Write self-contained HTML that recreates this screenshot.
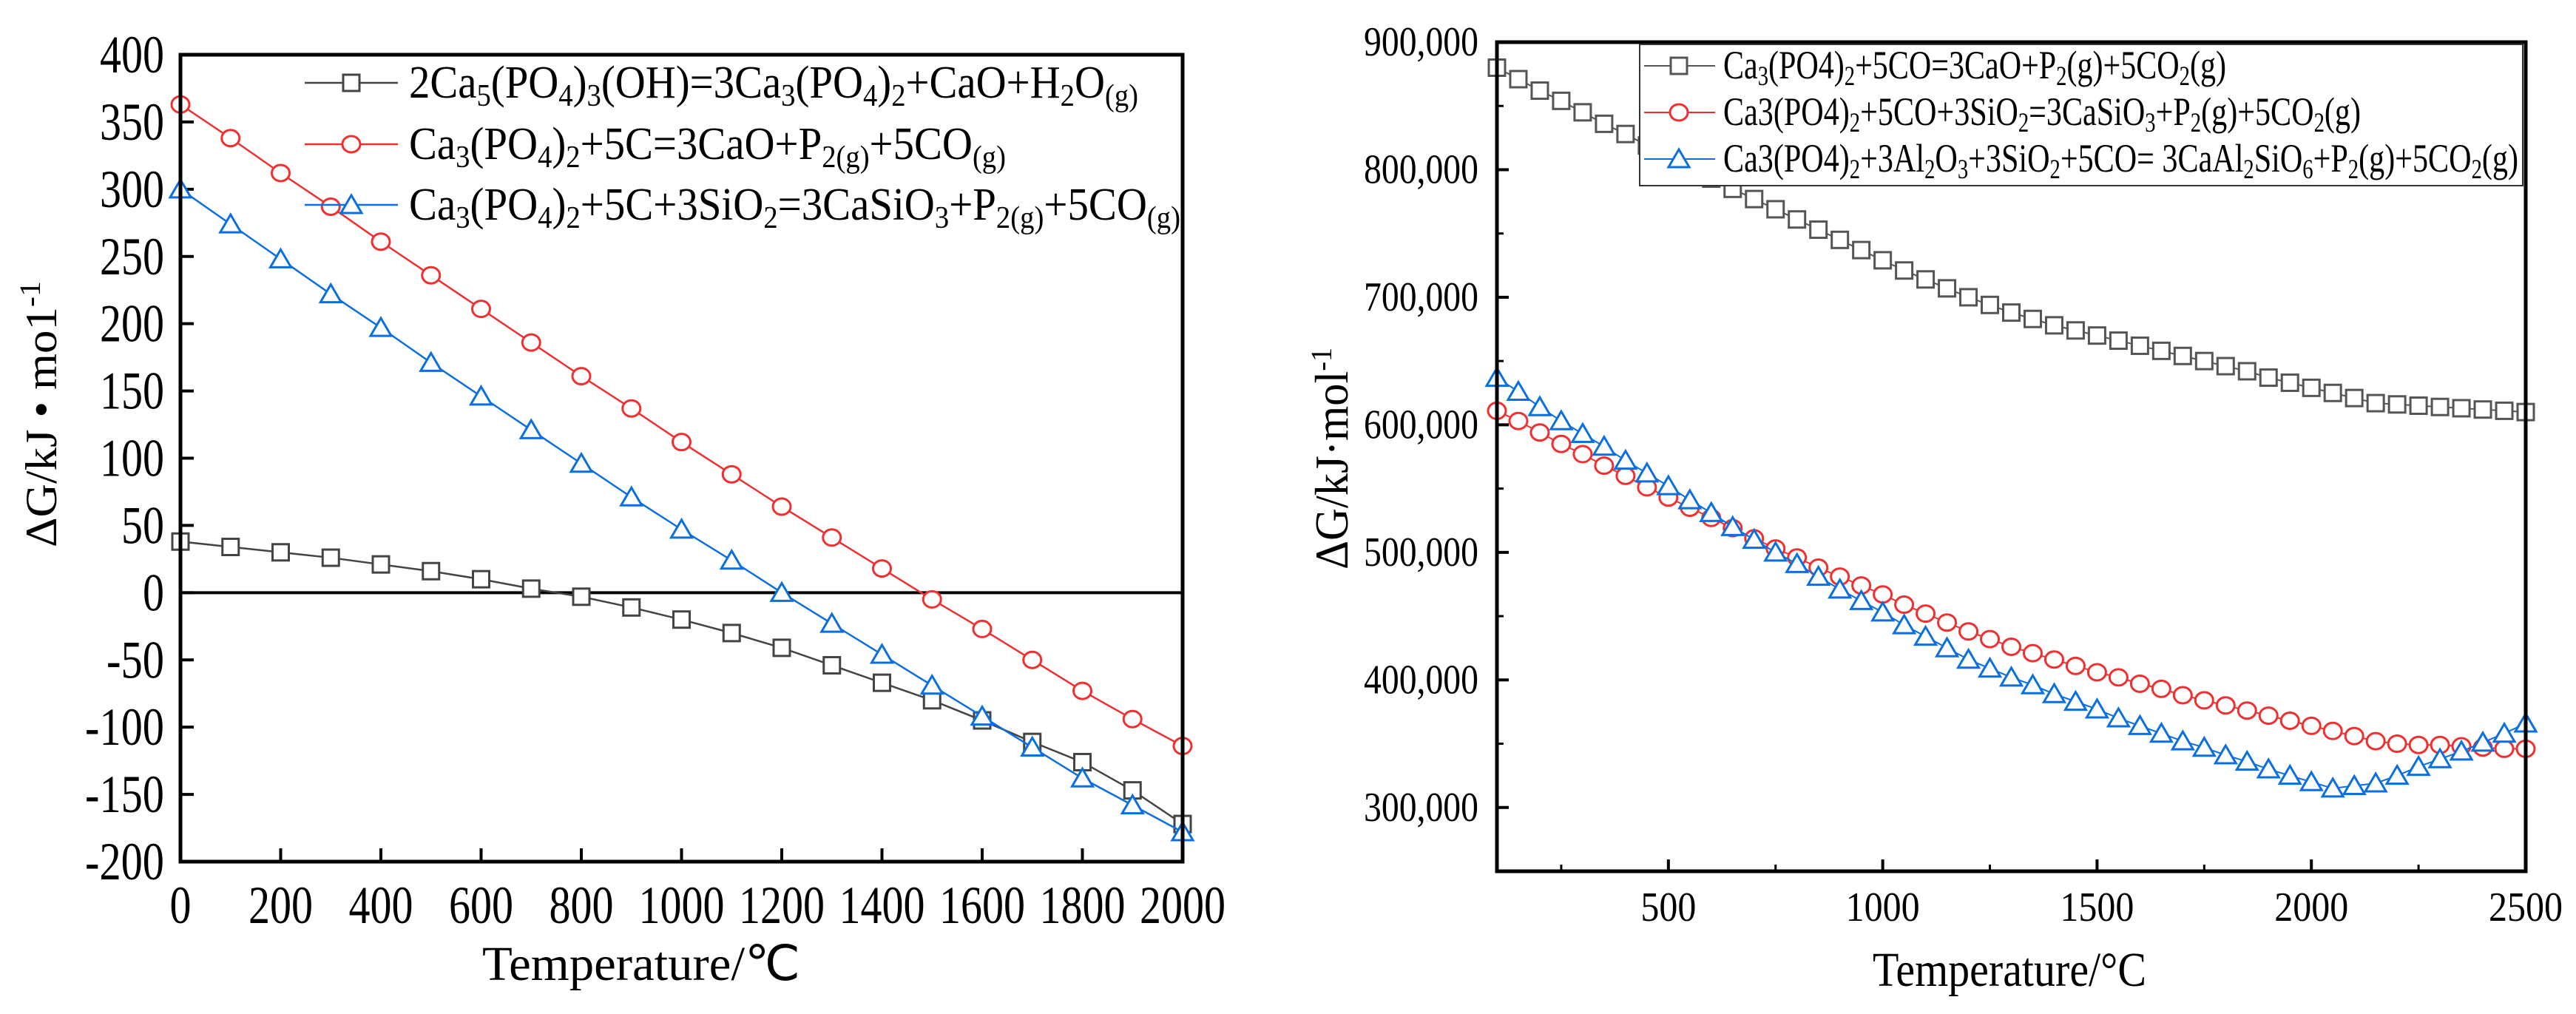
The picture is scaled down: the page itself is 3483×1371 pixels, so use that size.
<!DOCTYPE html>
<html><head><meta charset="utf-8"><style>
html,body{margin:0;padding:0;background:#fff;}
svg{display:block;}
text{font-family:"Liberation Serif",serif;fill:#000;}
</style></head><body>
<svg id="svg" width="3483" height="1371" viewBox="0 0 3483 1371" xmlns="http://www.w3.org/2000/svg">
<g id="left"></g>
<g id="right"></g>
</svg>
<script>
// ---------- Left chart data ----------
const leftTemps = [0,100,200,300,400,500,600,700,800,900,1000,1100,1200,1300,1400,1500,1600,1700,1800,1900,2000];
const leftHap = [38,34,30,26,21,16,10,3,-3,-11,-20,-30,-41,-54,-67,-80,-95,-111,-126,-147,-172];
const leftCarbon = [363,338,312,287,261,236,211,186,161,137,112,88,64,41,18,-5,-27,-50,-73,-94,-114];
const leftSilica = [300,274,248,222,197,171,146,121,96,71,47,24,0,-23,-46,-69,-92,-115,-138,-158,-178];
const leftXTicks = [0,200,400,600,800,1000,1200,1400,1600,1800,2000];
const leftYTicks = [400,350,300,250,200,150,100,50,0,-50,-100,-150,-200];

// ---------- Right chart data ----------
const rightTemps = [100,150,200,250,300,350,400,450,500,550,600,650,700,750,800,850,900,950,1000,1050,1100,1150,1200,1250,1300,1350,1400,1450,1500,1550,1600,1650,1700,1750,1800,1850,1900,1950,2000,2050,2100,2150,2200,2250,2300,2350,2400,2450,2500];
const rightCO = [880,871,862,854,845,836,828,819,810,802,793,785,777,769,761,753,745,737,729,721,714,707,700,694,688,683,678,674,670,666,662,658,654,650,646,642,637,633,629,625,621,617,616,615,614,613,612,611,610];
const rightSiO2 = [611,603,594,585,577,568,560,551,543,535,527,519,511,503,496,488,481,474,467,459,452,445,438,432,426,421,416,411,406,402,397,393,388,384,380,376,372,368,364,360,356,352,350,349,349,348,347,346,346];
const rightAl2O3 = [637,626,614,603,593,583,572,562,552,541,531,520,510,500,491,481,471,462,453,443,434,425,416,409,402,396,389,383,377,370,364,358,352,347,341,336,330,325,320,315,317,319,325,332,338,344,351,358,366];
const rightXTicks = [500,1000,1500,2000,2500];
const rightYTicks = [300000,400000,500000,600000,700000,800000,900000];

const NS = "http://www.w3.org/2000/svg";
function mk(parent, tag, attrs, txt){
  const e = document.createElementNS(NS, tag);
  for (const k in attrs) e.setAttribute(k, attrs[k]);
  if (txt !== undefined) e.textContent = txt;
  parent.appendChild(e);
  return e;
}
function marker(g, type, x, y, color, s){
  let e;
  if (type === 'sq') e = mk(g,'rect',{x:x-s,y:y-s,width:2*s,height:2*s,fill:'#fff',stroke:color,'stroke-width':3});
  else if (type === 'ci') e = mk(g,'ellipse',{cx:x,cy:y,rx:s+1,ry:s,fill:'#fff',stroke:color,'stroke-width':3});
  else e = mk(g,'polygon',{points:`${x},${y-s-2} ${x-s-3},${y+s} ${x+s+3},${y+s}`,fill:'#fff',stroke:color,'stroke-width':3});
  return e;
}
function richText(g, x, y, size, parts, len){
  const t = mk(g,'text',{x:x,y:y,'font-size':size,textLength:len,lengthAdjust:'spacingAndGlyphs'});
  parts.forEach(p=>{
    const ts = mk(t,'tspan',{});
    ts.textContent = p[0];
    if (p[1]===1){ ts.setAttribute('baseline-shift','-25%'); ts.setAttribute('font-size', size*0.68); }
  });
  return t;
}
function sub(str){
  const out=[]; const re=/_([^_]+)_/g; let last=0,m;
  while((m=re.exec(str))){ if(m.index>last) out.push([str.slice(last,m.index),0]); out.push([m[1],1]); last=re.lastIndex; }
  if(last<str.length) out.push([str.slice(last),0]);
  return out;
}

// ================= LEFT CHART =================
(function(){
  const g = document.getElementById('left');
  const X0=244, X1=1599, Y0=74, Y1=1165;
  const xs = v => X0 + (v-0)/(2000-0)*(X1-X0);
  const ys = v => Y0 + (400-v)/(400-(-200))*(Y1-Y0);
  leftXTicks.forEach(v=>{
    const t = mk(g,'line',{x1:xs(v),x2:xs(v),y1:Y1,y2:Y1-18,stroke:'#000','stroke-width':4});
     
    const s = String(v);
    const l = mk(g,'text',{x:xs(v),y:1248,'font-size':72,'text-anchor':'middle',textLength:29*s.length,lengthAdjust:'spacingAndGlyphs'}, s);
     
  });
  leftYTicks.forEach(v=>{
    const t = mk(g,'line',{x1:X0,x2:X0+18,y1:ys(v),y2:ys(v),stroke:'#000','stroke-width':4});
     
    const s = String(v);
    const l = mk(g,'text',{x:222,y:ys(v)+24,'font-size':72,'text-anchor':'end',textLength:s.startsWith('-')?(29*(s.length-1)+20):29*s.length,lengthAdjust:'spacingAndGlyphs'}, s);
     
  });
  const z = mk(g,'line',{x1:X0,x2:X1,y1:ys(0),y2:ys(0),stroke:'#000','stroke-width':4});
   
  const series = [
    {name:'series-hydroxyapatite', d:leftHap, c:'#444', m:'sq'},
    {name:'series-carbon', d:leftCarbon, c:'#f03030', m:'ci'},
    {name:'series-silica', d:leftSilica, c:'#0a6fe0', m:'tr'}
  ];
  series.forEach(s=>{
    const sg = mk(g,'g',{});
     
    const pts = leftTemps.map((t,i)=>xs(t)+','+ys(s.d[i])).join(' ');
    mk(sg,'polyline',{points:pts,fill:'none',stroke:s.c,'stroke-width':2.5});
    leftTemps.forEach((t,i)=>{
      const m = marker(sg,s.m,xs(t),ys(s.d[i]),s.c,11);
       
    });
  });
  const f = mk(g,'rect',{x:X0,y:Y0,width:X1-X0,height:Y1-Y0,fill:'none',stroke:'#000','stroke-width':5});
   
  const leg = mk(g,'g',{});
   
  const items = [
    {m:'sq',c:'#444',y:112,txt:'2Ca_5_(PO_4_)_3_(OH)=3Ca_3_(PO_4_)_2_+CaO+H_2_O_(g)_',len:986},
    {m:'ci',c:'#f03030',y:195,txt:'Ca_3_(PO_4_)_2_+5C=3CaO+P_2(g)_+5CO_(g)_',len:807},
    {m:'tr',c:'#0a6fe0',y:277,txt:'Ca_3_(PO_4_)_2_+5C+3SiO_2_=3CaSiO_3_+P_2(g)_+5CO_(g)_',len:1043}
  ];
  items.forEach(it=>{
    const e = mk(leg,'g',{});
     
    mk(e,'line',{x1:412,x2:538,y1:it.y,y2:it.y,stroke:it.c,'stroke-width':2.5});
    marker(e,it.m,475,it.y,it.c,11);
    richText(e,553,it.y+20,62,sub(it.txt),it.len);
  });
  const xt = mk(g,'text',{x:867,y:1325,'font-size':66,'text-anchor':'middle','font-family':'Liberation Mono, monospace',textLength:430,lengthAdjust:'spacingAndGlyphs'},'Temperature/℃');
   
  const yt = mk(g,'text',{x:0,y:0,'font-size':60,'text-anchor':'middle','font-family':'Liberation Mono, monospace',transform:'translate(76,560) rotate(-90)',textLength:360,lengthAdjust:'spacingAndGlyphs'});
   
  const a=mk(yt,'tspan',{}); a.textContent='ΔG/kJ • mo1';
  const b=mk(yt,'tspan',{'baseline-shift':'super','font-size':40}); b.textContent='-1';
})();

// ================= RIGHT CHART =================
(function(){
  const g = document.getElementById('right');
  const X0=2024, X1=3415, Y0=57, Y1=1178;
  const xs = v => X0 + (v-100)/(2500-100)*(X1-X0);
  const ys = v => Y0 + (900000-v)/(900000-250000)*(Y1-Y0);
  rightXTicks.forEach(v=>{
    const t = mk(g,'line',{x1:xs(v),x2:xs(v),y1:Y1,y2:Y1-16,stroke:'#000','stroke-width':4});
     
    const m = mk(g,'line',{x1:xs(v-250),x2:xs(v-250),y1:Y1,y2:Y1-9,stroke:'#000','stroke-width':3});
     
    const s = String(v);
    const l = mk(g,'text',{x:xs(v),y:1245,'font-size':56,'text-anchor':'middle',textLength:25*s.length,lengthAdjust:'spacingAndGlyphs'}, s);
     
  });
  rightYTicks.forEach(v=>{
    const t = mk(g,'line',{x1:X0,x2:X0+16,y1:ys(v),y2:ys(v),stroke:'#000','stroke-width':4});
     
    const m = mk(g,'line',{x1:X0,x2:X0+9,y1:ys(v-50000),y2:ys(v-50000),stroke:'#000','stroke-width':3});
     
    const l = mk(g,'text',{x:1999,y:ys(v)+18,'font-size':56,'text-anchor':'end',textLength:155,lengthAdjust:'spacingAndGlyphs'}, v.toLocaleString('en-US'));
     
  });
  const series = [
    {name:'series-co', d:rightCO, c:'#555', m:'sq'},
    {name:'series-co-sio2', d:rightSiO2, c:'#f03030', m:'ci'},
    {name:'series-co-al2o3-sio2', d:rightAl2O3, c:'#0a6fe0', m:'tr'}
  ];
  series.forEach(s=>{
    const sg = mk(g,'g',{});
     
    const pts = rightTemps.map((t,i)=>xs(t)+','+ys(s.d[i]*1000)).join(' ');
    mk(sg,'polyline',{points:pts,fill:'none',stroke:s.c,'stroke-width':2});
    rightTemps.forEach((t,i)=>{
      const m = marker(sg,s.m,xs(t),ys(s.d[i]*1000),s.c,11);
       
    });
  });
  const f = mk(g,'rect',{x:X0,y:Y0,width:X1-X0,height:Y1-Y0,fill:'none',stroke:'#000','stroke-width':5});
   
  const leg = mk(g,'g',{});
   
  mk(leg,'rect',{x:2217,y:60,width:1194,height:191,fill:'#fff',stroke:'#333','stroke-width':2});
  const items = [
    {m:'sq',c:'#555',y:89,txt:'Ca_3_(PO4)_2_+5CO=3CaO+P_2_(g)+5CO_2_(g)',len:680},
    {m:'ci',c:'#f03030',y:152,txt:'Ca3(PO4)_2_+5CO+3SiO_2_=3CaSiO_3_+P_2_(g)+5CO_2_(g)',len:862},
    {m:'tr',c:'#0a6fe0',y:215,txt:'Ca3(PO4)_2_+3Al_2_O_3_+3SiO_2_+5CO= 3CaAl_2_SiO_6_+P_2_(g)+5CO_2_(g)',len:1075}
  ];
  items.forEach(it=>{
    const e = mk(leg,'g',{});
     
    mk(e,'line',{x1:2223,x2:2319,y1:it.y,y2:it.y,stroke:it.c,'stroke-width':2});
    marker(e,it.m,2270,it.y,it.c,11);
    richText(e,2330,it.y+17,54,sub(it.txt),it.len);
  });
  const xt = mk(g,'text',{x:2717,y:1333,'font-size':66,'text-anchor':'middle',textLength:370,lengthAdjust:'spacingAndGlyphs'},'Temperature/°C');
   
  const yt = mk(g,'text',{x:0,y:0,'font-size':64,'text-anchor':'middle',transform:'translate(1822,620) rotate(-90)',textLength:300,lengthAdjust:'spacingAndGlyphs'});
   
  const a=mk(yt,'tspan',{}); a.textContent='ΔG/kJ·mol';
  const b=mk(yt,'tspan',{'baseline-shift':'super','font-size':40}); b.textContent='-1';
})();
</script>
</body></html>
